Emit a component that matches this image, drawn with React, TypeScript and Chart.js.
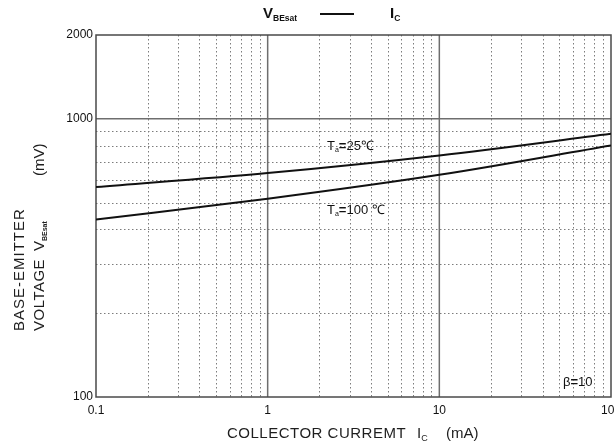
import React, { useEffect, useRef } from 'react';
import { Chart, registerables } from 'chart.js';

Chart.register(...registerables);

// Collector current (mA)
const currentMA = [0.1, 1, 10, 100];
// V_BEsat (mV) at Ta = 25 C and Ta = 100 C
const vbe25 = [568, 638, 738, 883];
const vbe100 = [434, 516, 629, 802];

const xTickValues = [0.1, 1, 10, 100];
const xTickLabels = ['0.1', '1', '10', '100'];
const yTickValues = [100, 1000, 2000];
const yTickLabels = ['100', '1000', '2000'];

const xMajorGrid = [1, 10];
const xMinorGrid = [
  0.2, 0.3, 0.4, 0.5, 0.6, 0.7, 0.8, 0.9,
  2, 3, 4, 5, 6, 7, 8, 9,
  20, 30, 40, 50, 60, 70, 80, 90,
];
const yMajorGrid = [1000];
const yMinorGrid = [200, 300, 400, 500, 600, 700, 800, 900];

const FONT = 'Arial, "Liberation Sans", sans-serif';

function drawRun(ctx: CanvasRenderingContext2D, parts: { t: string; font: string; dy?: number }[], x: number, y: number) {
  let cx = x;
  for (const p of parts) {
    ctx.font = p.font;
    ctx.fillText(p.t, cx, y + (p.dy || 0));
    cx += ctx.measureText(p.t).width;
  }
  return cx;
}

const gridPlugin = {
  id: 'customGrid',
  beforeDatasetsDraw(chart: any) {
    const { ctx, chartArea } = chart;
    const xs = chart.scales.x;
    const ys = chart.scales.y;
    const { left, right, top, bottom } = chartArea;
    ctx.save();
    // minor dotted
    ctx.strokeStyle = '#7c7c7c';
    ctx.lineWidth = 1;
    ctx.setLineDash([1.5, 2.5]);
    for (const v of xMinorGrid) {
      const px = Math.round(xs.getPixelForValue(v)) + 0.5;
      ctx.beginPath();
      ctx.moveTo(px, top);
      ctx.lineTo(px, bottom);
      ctx.stroke();
    }
    for (const v of yMinorGrid) {
      const py = Math.round(ys.getPixelForValue(v)) + 0.5;
      ctx.beginPath();
      ctx.moveTo(left, py);
      ctx.lineTo(right, py);
      ctx.stroke();
    }
    // major solid
    ctx.setLineDash([]);
    ctx.strokeStyle = '#6e6e6e';
    ctx.lineWidth = 1.5;
    for (const v of xMajorGrid) {
      const px = xs.getPixelForValue(v);
      ctx.beginPath();
      ctx.moveTo(px, top);
      ctx.lineTo(px, bottom);
      ctx.stroke();
    }
    for (const v of yMajorGrid) {
      const py = ys.getPixelForValue(v);
      ctx.beginPath();
      ctx.moveTo(left, py);
      ctx.lineTo(right, py);
      ctx.stroke();
    }
    // frame
    ctx.strokeStyle = '#4a4a4a';
    ctx.lineWidth = 1.5;
    ctx.strokeRect(left, top, right - left, bottom - top);
    ctx.restore();
  },
  afterDraw(chart: any) {
    const { ctx } = chart;
    ctx.save();
    ctx.fillStyle = '#111';
    ctx.textBaseline = 'alphabetic';
    ctx.textAlign = 'left';

    // Title: V_BEsat —— I_C
    drawRun(ctx, [
      { t: 'V', font: `bold 15px ${FONT}` },
      { t: 'BEsat', font: `bold 8.5px ${FONT}`, dy: 3 },
    ], 263, 18);
    ctx.strokeStyle = '#111';
    ctx.lineWidth = 2;
    ctx.beginPath();
    ctx.moveTo(320, 14);
    ctx.lineTo(354, 14);
    ctx.stroke();
    drawRun(ctx, [
      { t: 'I', font: `bold 15px ${FONT}` },
      { t: 'C', font: `bold 8.5px ${FONT}`, dy: 3 },
    ], 390, 18);

    // X axis title
    ctx.fillStyle = '#1e1e1e';
    (ctx as any).letterSpacing = '0.5px';
    ctx.font = `15px ${FONT}`;
    ctx.fillText('COLLECTOR CURREMT', 227, 438);
    (ctx as any).letterSpacing = '0px';
    drawRun(ctx, [
      { t: 'I', font: `15px ${FONT}` },
      { t: 'C', font: `9px ${FONT}`, dy: 3 },
    ], 417, 438);
    ctx.font = `15px ${FONT}`;
    ctx.fillText('(mA)', 446, 438);

    // Y axis title (rotated)
    ctx.save();
    ctx.translate(24, 331);
    ctx.rotate(-Math.PI / 2);
    (ctx as any).letterSpacing = '1px';
    ctx.font = `15px ${FONT}`;
    ctx.fillText('BASE-EMITTER', 0, 0);
    ctx.restore();

    ctx.save();
    ctx.translate(44, 331);
    ctx.rotate(-Math.PI / 2);
    (ctx as any).letterSpacing = '0.5px';
    ctx.font = `15px ${FONT}`;
    ctx.fillText('VOLTAGE', 0, 0);
    (ctx as any).letterSpacing = '0px';
    drawRun(ctx, [
      { t: 'V', font: `15px ${FONT}` },
      { t: 'BEsat', font: `bold 7px ${FONT}`, dy: 3 },
    ], 80, 0);
    ctx.font = `15px ${FONT}`;
    ctx.fillText('(mV)', 155, 0);
    ctx.restore();

    // Annotations
    ctx.fillStyle = '#111';
    drawRun(ctx, [
      { t: 'T', font: `13px ${FONT}` },
      { t: 'a', font: `7px ${FONT}`, dy: 2 },
      { t: '=', font: `bold 13px ${FONT}` },
      { t: '25', font: `13px ${FONT}` },
      { t: '℃', font: `13px ${FONT}` },
    ], 327, 150);
    drawRun(ctx, [
      { t: 'T', font: `13px ${FONT}` },
      { t: 'a', font: `7px ${FONT}`, dy: 2 },
      { t: '=', font: `bold 13px ${FONT}` },
      { t: '100 ', font: `13px ${FONT}` },
      { t: '℃', font: `13px ${FONT}` },
    ], 327, 214);
    drawRun(ctx, [
      { t: 'β', font: `13px ${FONT}` },
      { t: '=', font: `bold 13px ${FONT}` },
      { t: '10', font: `13px ${FONT}` },
    ], 563, 386);
    ctx.restore();
  },
};

export default function App() {
  const ref = useRef<HTMLCanvasElement | null>(null);
  useEffect(() => {
    if (!ref.current) return;
    const mk = (vals: number[]) => currentMA.map((x, i) => ({ x, y: vals[i] }));
    const chart = new Chart(ref.current, {
      type: 'line',
      data: {
        datasets: [
          {
            label: 'Ta=25℃',
            data: mk(vbe25),
            borderColor: '#111',
            borderWidth: 2,
            pointRadius: 0,
            cubicInterpolationMode: 'monotone',
          },
          {
            label: 'Ta=100℃',
            data: mk(vbe100),
            borderColor: '#111',
            borderWidth: 2,
            pointRadius: 0,
            cubicInterpolationMode: 'monotone',
          },
        ],
      },
      options: {
        responsive: false,
        animation: false,
        events: [],
        layout: { padding: { top: 35, right: 3, left: 0, bottom: 0 } },
        plugins: {
          legend: { display: false },
          tooltip: { enabled: false },
          title: { display: false },
        },
        scales: {
          x: {
            type: 'logarithmic',
            min: 0.1,
            max: 100,
            grid: { display: false, drawTicks: false },
            border: { display: false },
            afterBuildTicks: (s: any) => {
              s.ticks = xTickValues.map((v) => ({ value: v }));
            },
            afterFit: (s: any) => {
              s.height = 45;
              s.paddingLeft = 0;
              s.paddingRight = 0;
            },
            ticks: {
              autoSkip: false,
              maxRotation: 0,
              padding: 6,
              color: '#111',
              font: { family: FONT, size: 12 },
              callback: (_v: any, i: number) => xTickLabels[i],
            },
          },
          y: {
            type: 'logarithmic',
            min: 100,
            max: 2000,
            grid: { display: false, drawTicks: false },
            border: { display: false },
            afterBuildTicks: (s: any) => {
              s.ticks = yTickValues.map((v) => ({ value: v }));
            },
            afterFit: (s: any) => {
              s.width = 96;
              s.paddingTop = 0;
              s.paddingBottom = 0;
            },
            ticks: {
              autoSkip: false,
              padding: 3,
              color: '#111',
              font: { family: FONT, size: 12 },
              callback: (_v: any, i: number) => yTickLabels[i],
            },
          },
        },
      },
      plugins: [gridPlugin],
    } as any);
    return () => chart.destroy();
  }, []);
  return (
    <canvas
      ref={ref}
      width={614}
      height={442}
      style={{ position: 'fixed', left: 0, top: 0, width: 614, height: 442, display: 'block', background: '#fff' }}
    />
  );
}
